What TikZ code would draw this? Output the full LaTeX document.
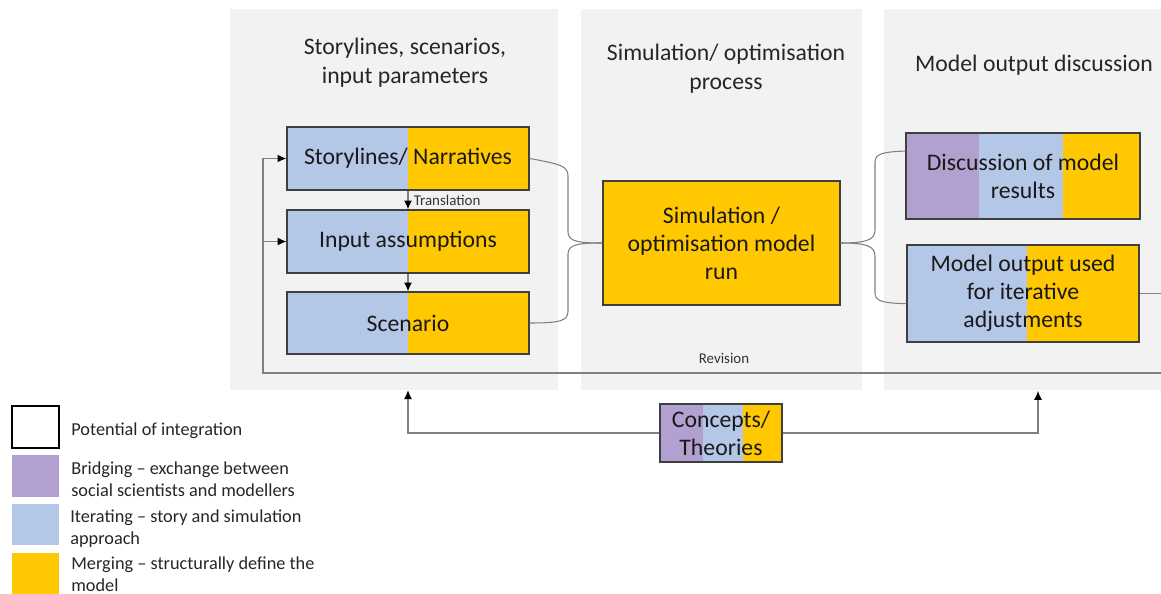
\documentclass[tikz,border=0pt]{standalone}
\usepackage{fontspec}
\setmainfont{Carlito}
\usetikzlibrary{arrows.meta}

\definecolor{panelgray}{HTML}{F2F2F2}
\definecolor{iterblue}{HTML}{B4C7E7}
\definecolor{mergegold}{HTML}{FFC800}
\definecolor{bridgepurple}{HTML}{B1A0D0}
\definecolor{linegray}{HTML}{808080}
\definecolor{boxline}{HTML}{3F3F3F}

\tikzset{
  panel/.style={fill=panelgray, minimum height=7.62cm, inner sep=0pt},
  box/.style={draw=boxline, line width=0.8pt, inner sep=0pt, align=center, text=black!90, font=\fontsize{13.5}{16}\selectfont},
  title/.style={align=center, text=black!85, font=\fontsize{13.5}{16.5}\selectfont},
  small/.style={text=black!80, inner sep=1pt, font=\fontsize{8.5}{10}\selectfont},
  legtext/.style={anchor=west, align=left, inner sep=0pt, text=black!85, font=\fontsize{10.4}{12.5}\selectfont},
  legbox/.style={minimum width=0.94cm, minimum height=0.84cm, inner sep=0pt},
  link/.style={draw=linegray, line width=0.6pt},
  arr/.style={draw=linegray, line width=0.6pt, -{Latex[length=5pt,width=4.5pt,color=black]}},
}

\begin{document}
\begin{tikzpicture}[x=0.02cm, y=-0.02cm]
\useasboundingbox (0,0) rectangle (1161,594);

% panels
\node[panel, minimum width=6.56cm] (p1) at (394,199.5) {};
\node[panel, minimum width=5.62cm] (p2) at (721.5,199.5) {};
\node[panel, minimum width=5.54cm] (p3) at (1022.5,199.5) {};

\node[title] (t1) at (405,63) {Storylines, scenarios,\\input parameters};
\node[title] (t2) at (726,69) {Simulation/ optimisation\\process};
\node[title] (t3) at (1034,65) {Model output discussion};

% colour parts of the boxes
\fill[iterblue] (287,127) rectangle (408,190);
\fill[mergegold] (408,127) rectangle (529,190);
\fill[iterblue] (287,210) rectangle (408,273);
\fill[mergegold] (408,210) rectangle (529,273);
\fill[iterblue] (287,292) rectangle (408,354);
\fill[mergegold] (408,292) rectangle (529,354);
\fill[mergegold] (603,181) rectangle (840,305);
\fill[bridgepurple] (906,133) rectangle (979,219);
\fill[iterblue] (979,133) rectangle (1063,219);
\fill[mergegold] (1063,133) rectangle (1140,219);
\fill[iterblue] (907,245) rectangle (1027,342);
\fill[mergegold] (1027,245) rectangle (1139,342);
\fill[bridgepurple] (660,404) rectangle (703,462);
\fill[iterblue] (703,404) rectangle (743,462);
\fill[mergegold] (743,404) rectangle (782,462);

% boxes
\node[box, minimum width=4.84cm, minimum height=1.26cm] (story) at (408,158.5) {Storylines/ Narratives};
\node[box, minimum width=4.84cm, minimum height=1.26cm] (input) at (408,241.5) {Input assumptions};
\node[box, minimum width=4.84cm, minimum height=1.24cm] (scen) at (408,323) {Scenario};
\node[box, minimum width=4.74cm, minimum height=2.48cm] (simrun) at (721.5,243) {Simulation /\\optimisation model\\run};
\node[box, minimum width=4.68cm, minimum height=1.72cm] (disc) at (1023,176) {Discussion of model\\results};
\node[box, minimum width=4.64cm, minimum height=1.94cm] (adj) at (1023,293.5) {Model output used\\for iterative\\adjustments};
\node[box, minimum width=2.44cm, minimum height=1.16cm] (concepts) at (721,433) {Concepts/\\Theories};

% translation
\draw[arr] (story) -- (input) node[small, midway, anchor=west, xshift=2pt] {Translation};
\draw[arr] (input) -- (scen);

% braces into and out of the model run
\draw[link] (story.east) .. controls (560,164) and (568,166) .. (568,176) -- (568,232)
  .. controls (568,242) and (580,243) .. (simrun.west);
\draw[link] (scen.east) .. controls (560,323) and (568,321) .. (568,311) -- (568,254)
  .. controls (568,244) and (580,243) .. (simrun.west);
\draw[link] (simrun.east) .. controls (866,243) and (875,240) .. (875,230) -- (875,162)
  .. controls (875,153) and (885,152) .. (disc.168);
\draw[link] (simrun.east) .. controls (866,243) and (875,246) .. (875,256) -- (875,293)
  .. controls (875,302) and (885,303) .. (adj.185);

% revision loop
\coordinate (adjout) at (1161,293.5);
\coordinate (revR) at (1161,373);
\coordinate (revL) at (263,373);
\draw[link] (adj.east) -- (adjout);
\draw[arr, line width=0.9pt] (revR) -- (revL) |- (story.west);
\draw[arr] (revL |- input.west) -- (input.west);
\node[small] (rev) at (724,358) {Revision};

% concepts feed both ends
\coordinate (p3in) at (1038,391);
\draw[arr] (concepts.west) -| (story |- p1.south);
\draw[arr] (concepts.east) -| (p3in);

% legend
\node[legbox, draw=black, line width=0.8pt, fill=white] (l1) at (35.5,427) {};
\node[legbox, fill=bridgepurple] (l2) at (35.5,476) {};
\node[legbox, fill=iterblue] (l3) at (35.5,524.5) {};
\node[legbox, fill=mergegold] (l4) at (35.5,573.5) {};
\node[legtext] (lt1) at (71,431) {Potential of integration};
\node[legtext] (lt2) at (71,479) {Bridging – exchange between\\social scientists and modellers};
\node[legtext] (lt3) at (70,529) {Iterating – story and simulation\\approach};
\node[legtext] (lt4) at (71,574) {Merging – structurally define the\\model};
\end{tikzpicture}
\end{document}
